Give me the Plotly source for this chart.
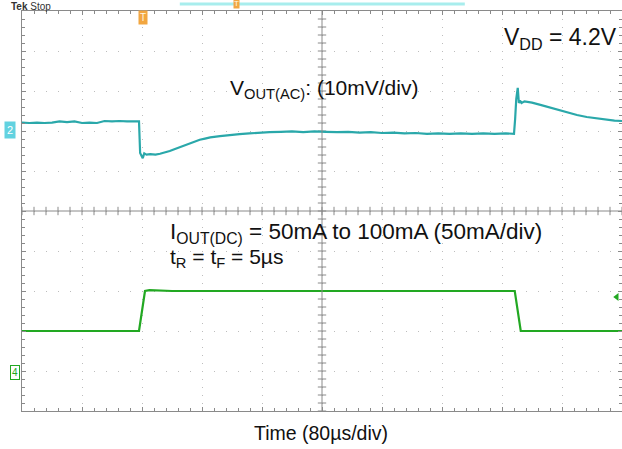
import numpy as np
import plotly.graph_objects as go

# ---- data ----
# Channel 2: VOUT (AC coupled), mV, time in microseconds
ch2_t = [0, 10, 20, 30, 40, 50, 60, 70, 80, 90, 100, 110, 120, 130, 140, 150, 156,
         157.5, 159, 161, 163, 166, 171, 178, 184, 191, 197, 204, 211, 218, 224, 231,
         237, 244, 251, 264, 277, 290, 303, 317, 330, 345, 360, 375, 390, 405, 420,
         435, 450, 465, 480, 495, 510, 525, 540, 555, 570, 585, 600, 615, 630, 645,
         656, 657.5, 659, 661, 662.5, 664, 666, 670, 674, 680, 690, 700, 713, 727,
         740, 753, 767, 780, 790, 800]
ch2_mv = [2.1, 2.0, 2.1, 2.0, 2.1, 2.4, 2.2, 2.4, 2.0, 2.1, 2.0, 2.5, 2.4, 2.5, 2.4, 2.5, 2.4,
          -5.5, -6.2, -6.8, -5.6, -5.9, -5.8, -5.9, -5.7, -5.4, -5.0, -4.5, -4.0, -3.5, -3.0, -2.6,
          -2.2, -1.9, -1.6, -1.3, -1.0, -0.8, -0.6, -0.4, -0.3, -0.2, -0.1, -0.3, -0.1, -0.2, -0.3,
          -0.2, -0.4, -0.3, -0.5, -0.4, -0.6, -0.5, -0.7, -0.6, -0.7, -0.6, -0.7, -0.6, -0.7, -0.6,
          -0.7, 3.0, 8.0, 10.8, 7.0, 7.6, 7.0, 7.4, 7.3, 7.1, 6.6, 6.1, 5.4, 4.6,
          4.0, 3.5, 3.1, 2.8, 2.6, 2.5]
# Channel 4: IOUT (DC), mA
ch4_t = [0, 156, 164, 170, 200, 657, 665, 800]
ch4_ma = [50, 50, 100, 101, 100, 100, 50, 50]

ch2_scale, ch2_pos = 10.0, 2.0     # mV/div, div offset
ch4_scale, ch4_pos = 50.0, -4.0    # mA/div, div offset

y2 = [ch2_pos + v / ch2_scale for v in ch2_mv]
y4 = [ch4_pos + v / ch4_scale for v in ch4_ma]

FONT = "Liberation Sans, Arial, sans-serif"
GRID = "#bdbdbd"
FRAME = "#8a8a8a"

fig = go.Figure()

# center cross minor ticks (graticule)
cx = np.arange(0, 800.1, 16)
cy = np.arange(-5, 5.01, 0.2)
fig.add_trace(go.Scatter(x=cx, y=[0] * len(cx), mode="markers", hoverinfo="skip",
                         marker=dict(symbol="line-ns", size=6, line=dict(width=1, color=FRAME))))
fig.add_trace(go.Scatter(x=[400] * len(cy), y=cy, mode="markers", hoverinfo="skip",
                         marker=dict(symbol="line-ew", size=6, line=dict(width=1, color=FRAME))))

fig.add_trace(go.Scatter(x=ch2_t, y=y2, mode="lines", line=dict(color="#2aa8aa", width=2.2)))
fig.add_trace(go.Scatter(x=ch4_t, y=y4, mode="lines", line=dict(color="#22a822", width=2.2)))

# trigger level marker
fig.add_trace(go.Scatter(x=[793], y=[-2.15], mode="markers", cliponaxis=False,
                         marker=dict(symbol="triangle-left", size=7, color="#22a822")))

fig.add_shape(type="line", x0=400, x1=400, y0=-5, y1=5, line=dict(color=FRAME, width=1))
fig.add_shape(type="line", x0=0, x1=800, y0=0, y1=0, line=dict(color=FRAME, width=1))

# top record indicator
fig.add_shape(type="line", xref="paper", yref="paper", x0=0.263, x1=0.738, y0=1.0175, y1=1.0175,
              line=dict(color="#a8eded", width=3))


def px2p(xpx, ypx):
    return (xpx - 22) / 600.0, (411 - ypx) / 400.0


def label(text, xpx, ypx, size=21, xanchor="left", yanchor="middle", color="#111", **kw):
    xp, yp = px2p(xpx, ypx)
    fig.add_annotation(text=text, x=xp, y=yp, xref="paper", yref="paper", showarrow=False,
                       xanchor=xanchor, yanchor=yanchor,
                       font=dict(family=FONT, size=size, color=color), **kw)


label("V<sub>DD</sub> = 4.2V", 502, 38, size=23)
label("V<sub>OUT(AC)</sub>: (10mV/div)", 228, 89, size=21)
label("I<sub>OUT(DC)</sub> = 50mA to 100mA (50mA/div)", 168, 233, size=22.5)
label("t<sub>R</sub> = t<sub>F</sub> = 5µs", 168, 258, size=21)
label("Time (80µs/div)", 321, 433, size=19.5, xanchor="center")
label("<b>Tek</b> Stop", 10, 0, size=10, yanchor="top", color="#333", borderpad=0)

# channel markers
label("2", 10, 130, size=11, xanchor="center", color="white", bgcolor="#62d2e0", borderpad=2)
label("4", 15, 372, size=10, xanchor="center", color="#22a822", bgcolor="white",
      bordercolor="#22a822", borderwidth=1, borderpad=1)
# trigger position markers
label("T", 143, 18, size=10, xanchor="center", color="#fff7e0", bgcolor="#f2a640", borderpad=1)
label("T", 236, 4, size=8, xanchor="center", color="#fff7e0", bgcolor="#f2a640", borderpad=0)

fig.update_layout(
    width=622, height=449, margin=dict(l=22, r=0, t=11, b=38),
    paper_bgcolor="white", plot_bgcolor="white", showlegend=False,
    xaxis=dict(range=[0, 800], tick0=0, dtick=80, showticklabels=False, showgrid=True,
               gridcolor=GRID, griddash="1px,7px", gridwidth=1, zeroline=False,
               showline=True, linecolor=FRAME, linewidth=1, mirror="ticks",
               ticks="inside", ticklen=4, tickcolor=FRAME,
               minor=dict(dtick=16, ticks="inside", ticklen=3, tickcolor=FRAME, showgrid=False)),
    yaxis=dict(range=[-5, 5], tick0=-5, dtick=1, showticklabels=False, showgrid=True,
               gridcolor=GRID, griddash="1px,11px", gridwidth=1, zeroline=False,
               showline=True, linecolor=FRAME, linewidth=1, mirror="ticks",
               ticks="inside", ticklen=4, tickcolor=FRAME,
               minor=dict(dtick=0.2, ticks="inside", ticklen=3, tickcolor=FRAME, showgrid=False)),
)

fig.write_html("out.html")
